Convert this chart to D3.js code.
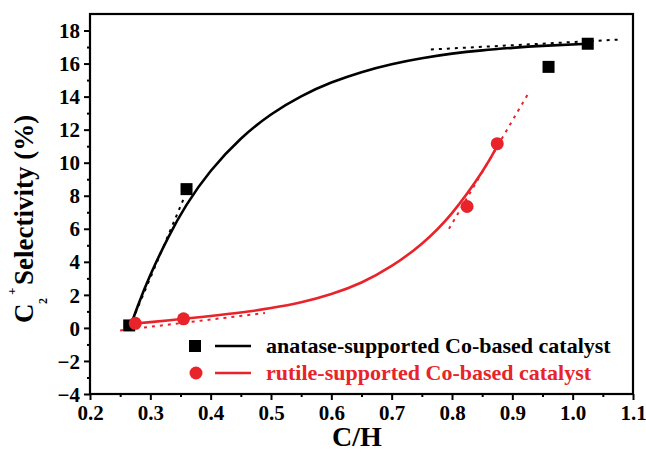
<!DOCTYPE html>
<html>
<head>
<meta charset="utf-8">
<script src="https://cdn.jsdelivr.net/npm/d3@7"></script>
<style>
  html, body { margin: 0; padding: 0; background: #fff; }
  svg { display: block; }
  text { font-family: "Liberation Serif", "Times New Roman", serif; font-weight: bold; }
</style>
</head>
<body>
<svg id="chart" width="646" height="455"></svg>
<script>
// ---- data ----
const anataseX = [0.265, 0.360, 0.960, 1.025];
const anataseY = [0.15, 8.4, 15.8, 17.2];
const rutileX = [0.275, 0.355, 0.825, 0.875];
const rutileY = [0.28, 0.55, 7.35, 11.15];

// fitted curves
const anataseFitX = [0.267, 0.28, 0.30, 0.33, 0.36, 0.40, 0.45, 0.50, 0.55, 0.60, 0.65, 0.70, 0.75, 0.80, 0.85, 0.90, 0.95, 1.025];
const anataseFitY = [0.1, 1.4, 3.2, 5.5, 7.45, 9.5, 11.45, 12.92, 14.02, 14.85, 15.48, 15.96, 16.32, 16.6, 16.8, 16.95, 17.07, 17.2];
const rutileFitX = [0.27, 0.30, 0.355, 0.40, 0.45, 0.50, 0.55, 0.60, 0.65, 0.70, 0.75, 0.80, 0.85, 0.875];
const rutileFitY = [0.25, 0.35, 0.55, 0.72, 0.93, 1.2, 1.55, 2.05, 2.75, 3.75, 5.1, 6.95, 9.45, 11.0];

// dotted tangent lines
const anataseTan1X = [0.265, 0.355], anataseTan1Y = [0.0, 7.8];
const anataseTan2X = [0.765, 1.077], anataseTan2Y = [16.85, 17.45];
const rutileTan1X = [0.25, 0.49], rutileTan1Y = [-0.15, 0.9];
const rutileTan2X = [0.795, 0.925], rutileTan2Y = [6.0, 14.1];

const xTicks = [0.2, 0.3, 0.4, 0.5, 0.6, 0.7, 0.8, 0.9, 1.0, 1.1];
const xMinor = [0.25, 0.35, 0.45, 0.55, 0.65, 0.75, 0.85, 0.95, 1.05];
const yTicks = [-4, -2, 0, 2, 4, 6, 8, 10, 12, 14, 16, 18];
const yMinor = [-3, -1, 1, 3, 5, 7, 9, 11, 13, 15, 17];

const legendLabels = ["anatase-supported Co-based catalyst", "rutile-supported Co-based catalyst"];
const xTitle = "C/H";

// ---- drawing ----
const RED = "#e8232a";
const FONT = '"Liberation Serif", "Times New Roman", serif';
const svg = d3.select("#chart");
const L = 90, R = 633, T = 14, B = 394;
const x = d3.scaleLinear().domain([0.2, 1.1]).range([L, R]);
const y = d3.scaleLinear().domain([-4, 19]).range([B, T]);

// axes
const xAxis = d3.axisBottom(x).tickValues(xTicks).tickFormat(d3.format(".1f")).tickSize(6).tickPadding(5);
const xAxisMinor = d3.axisBottom(x).tickValues(xMinor).tickFormat("").tickSize(3);
const yAxis = d3.axisLeft(y).tickValues(yTicks).tickFormat(d3.format("d")).tickSize(6).tickPadding(4);
const yAxisMinor = d3.axisLeft(y).tickValues(yMinor).tickFormat("").tickSize(3);

function styleAxis(g) {
  g.attr("font-family", FONT).attr("font-size", 21).attr("font-weight", "bold");
  g.select(".domain").remove();
  g.selectAll("line").attr("stroke", "#000").attr("stroke-width", 2);
  g.selectAll("text").attr("fill", "#000");
}
svg.append("g").attr("transform", `translate(0,${B})`).call(xAxis).call(styleAxis);
svg.append("g").attr("transform", `translate(0,${B})`).call(xAxisMinor).call(styleAxis);
svg.append("g").attr("transform", `translate(${L},0)`).call(yAxis).call(styleAxis)
  .selectAll("text").attr("dy", "0.34em");
svg.append("g").attr("transform", `translate(${L},0)`).call(yAxisMinor).call(styleAxis);

// frame
svg.append("rect").attr("x", L).attr("y", T).attr("width", R - L).attr("height", B - T)
  .attr("fill", "none").attr("stroke", "#000").attr("stroke-width", 2.2);

const line = d3.line().x(d => x(d[0])).y(d => y(d[1]));
const curve = d3.line().x(d => x(d[0])).y(d => y(d[1])).curve(d3.curveNatural);
const zip = (a, b) => a.map((v, i) => [v, b[i]]);

// dotted tangents
[[anataseTan1X, anataseTan1Y, "#000"], [anataseTan2X, anataseTan2Y, "#000"],
 [rutileTan1X, rutileTan1Y, RED], [rutileTan2X, rutileTan2Y, RED]].forEach(([xs, ys, c]) => {
  svg.append("path").attr("d", line(zip(xs, ys))).attr("fill", "none")
    .attr("stroke", c).attr("stroke-width", 2).attr("stroke-dasharray", "3,5");
});

// fitted curves
svg.append("path").attr("d", curve(zip(anataseFitX, anataseFitY))).attr("fill", "none")
  .attr("stroke", "#000").attr("stroke-width", 2.6);
svg.append("path").attr("d", curve(zip(rutileFitX, rutileFitY))).attr("fill", "none")
  .attr("stroke", RED).attr("stroke-width", 2.6);

// markers
const S = 12;
svg.append("g").selectAll("rect").data(zip(anataseX, anataseY)).join("rect")
  .attr("x", d => x(d[0]) - S / 2).attr("y", d => y(d[1]) - S / 2)
  .attr("width", S).attr("height", S).attr("fill", "#000");
svg.append("g").selectAll("circle").data(zip(rutileX, rutileY)).join("circle")
  .attr("cx", d => x(d[0])).attr("cy", d => y(d[1])).attr("r", 6.5).attr("fill", RED);

// legend
const lg = svg.append("g");
const rows = [{ y: 346, c: "#000", shape: "square" }, { y: 373, c: RED, shape: "circle" }];
rows.forEach((r, i) => {
  if (r.shape === "square") lg.append("rect").attr("x", 189).attr("y", r.y - 6).attr("width", 12).attr("height", 12).attr("fill", r.c);
  else lg.append("circle").attr("cx", 196).attr("cy", r.y).attr("r", 6.5).attr("fill", r.c);
  lg.append("line").attr("x1", 215).attr("x2", 251).attr("y1", r.y).attr("y2", r.y).attr("stroke", r.c).attr("stroke-width", 2.4);
  lg.append("text").attr("x", 266).attr("y", r.y + 7).attr("fill", r.c).style("font-size", "22px").text(legendLabels[i]);
});

// axis titles
svg.append("text").attr("x", 357).attr("y", 446).attr("text-anchor", "middle")
  .style("font-size", "28px").attr("fill", "#000").text(xTitle);

const yt = svg.append("g").attr("transform", "translate(33,323) rotate(-90)");
yt.append("text").attr("x", 0).attr("y", 0).style("font-size", "27px").text("C");
yt.append("text").attr("x", 19).attr("y", 14).style("font-size", "12px").text("2");
yt.append("text").attr("x", 28).attr("y", -17).style("font-size", "13px").text("+");
yt.append("text").attr("x", 38).attr("y", 0).style("font-size", "27px").text("Selectivity (%)");
</script>
</body>
</html>
